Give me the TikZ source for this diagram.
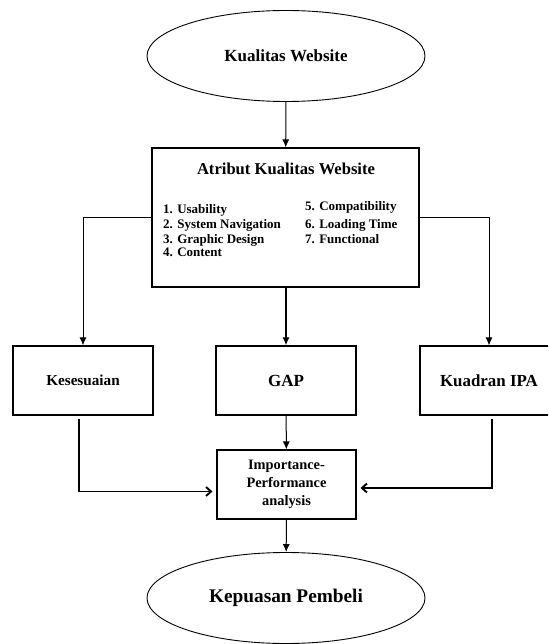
\documentclass[tikz,border=0pt]{standalone}
\usepackage{fontspec}
\setmainfont{Liberation Serif}
\usetikzlibrary{arrows.meta,shapes.geometric}
\begin{document}
\begin{tikzpicture}[x=1pt, y=-1pt, every node/.style={font=\bfseries},
  boxnode/.style={draw, line width=1.1pt, minimum width=140pt, minimum height=69pt, inner sep=0pt},
  ovalnode/.style={draw, ellipse, line width=0.9pt, minimum width=278pt, minimum height=91pt, inner sep=0pt},
  link/.style={line width=1pt, -{Latex[length=8pt,width=7pt]}},
  back/.style={line width=1.9pt, -{Straight Barb[length=5pt,width=9pt]}}]
  \useasboundingbox (0,0) rectangle (548,644);
  \clip (0,0) rectangle (548,644);
  % ovals
  \node[ovalnode, font=\bfseries\fontsize{17}{20}\selectfont] (kualitas) at (286,56) {Kualitas Website};
  \node[ovalnode, font=\bfseries\fontsize{19.3}{22}\selectfont] (kepuasan) at (286,598) {Kepuasan Pembeli};
  % attribute box
  \node[draw, line width=1.1pt, minimum width=267pt, minimum height=139pt, inner sep=0pt] (atribut) at (285.5,217.5) {};
  \node[font=\bfseries\fontsize{16.6}{19}\selectfont] (judul) at (286,169) {Atribut Kualitas Website};
  \foreach \y/\t [count=\i] in {213/1. Usability, 228.5/2. System Navigation, 243/3. Graphic Design, 256.5/4. Content}
    \node[anchor=base west, inner sep=0pt, font=\bfseries\fontsize{13}{15}\selectfont] (kiri\i) at (163,\y) {\t};
  \foreach \y/\t [count=\i] in {211/5. Compatibility, 228.5/6. Loading Time, 243.5/7. Functional}
    \node[anchor=base west, inner sep=0pt, font=\bfseries\fontsize{13}{15}\selectfont] (kanan\i) at (305,\y) {\t};
  % middle row
  \node[boxnode, font=\bfseries\fontsize{15.2}{18}\selectfont] (kes) at (83,380.5) {Kesesuaian};
  \node[boxnode, font=\bfseries\fontsize{17}{20}\selectfont] (gap) at (286,380.5) {GAP};
  \node[boxnode, minimum width=138pt, font=\bfseries\fontsize{16.9}{19}\selectfont] (kuadran) at (489,380.5) {Kuadran IPA};
  \node[boxnode, minimum width=139pt, align=center, font=\bfseries\fontsize{14.4}{18}\selectfont] (ipa) at (286.5,484.5) {Importance-\\Performance\\analysis};
  % connectors
  \draw[link] (kualitas) -- (atribut);
  \draw[link] (atribut.west) -| (kes.north);
  \draw[link] (atribut.east) -| (kuadran.north);
  \draw[link, line width=1.6pt] (atribut.south -| gap.north) -- (gap.north);
  \draw[link] (gap) -- (ipa);
  \draw[link] (ipa) -- (kepuasan);
  \draw[back] ([xshift=-4pt,yshift=-3pt]kes.south) |- ([xshift=-4pt,yshift=-7pt]ipa.west);
  \draw[back] ([xshift=3pt,yshift=-3pt]kuadran.south) |- ([xshift=4pt,yshift=-3.5pt]ipa.east);
\end{tikzpicture}
\end{document}
